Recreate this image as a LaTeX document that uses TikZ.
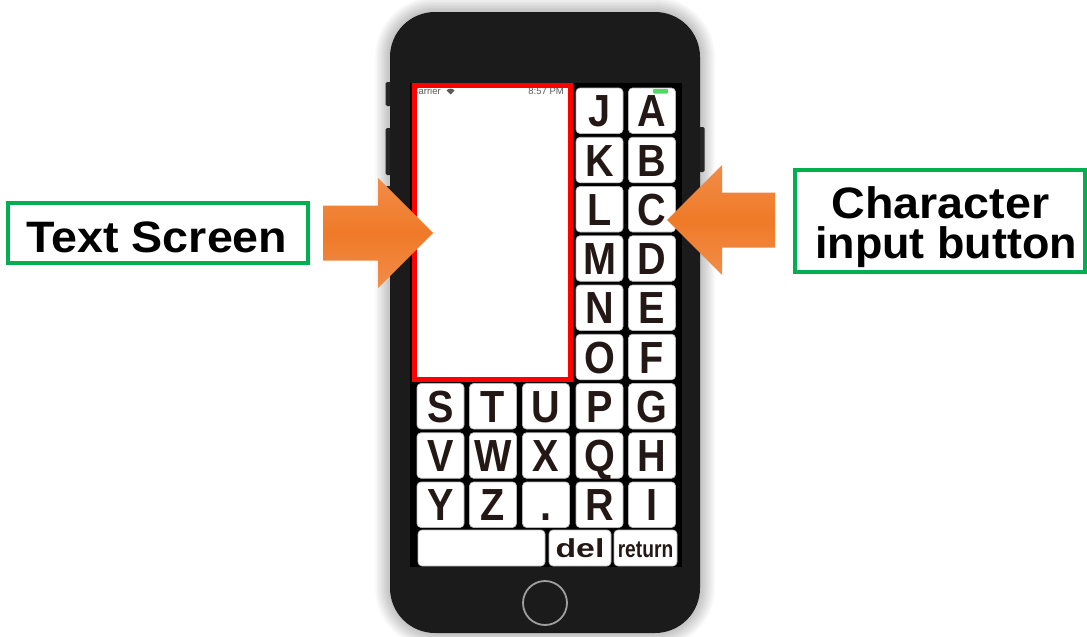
\documentclass[tikz,border=0pt]{standalone}
\usepackage{fontspec}
\setmainfont{Liberation Sans}
\usepackage{graphicx}
\definecolor{phonebody}{HTML}{1B1B1B}
\definecolor{sidebtn}{HTML}{262626}
\definecolor{lblgreen}{HTML}{00B050}
\definecolor{keyink}{HTML}{231815}
\definecolor{orgA}{HTML}{F28C48}
\definecolor{orgB}{HTML}{EF7A28}
\definecolor{batt}{HTML}{4CD964}
\definecolor{statgray}{HTML}{5A5A5A}
\newcommand\keyletter[1]{\scalebox{0.88}[1]{#1}}
\newcommand\lbltext[1]{\scalebox{1.06}[1]{#1}}
\begin{document}
\begin{tikzpicture}[x=1pt,y=-1pt,
  key/.style={draw=gray!55, line width=0.7pt, fill=white, rounded corners=4pt,
    minimum width=47pt, minimum height=45.5pt, inner sep=0pt,
    text height=32pt, text depth=0pt, text=keyink,
    font=\fontsize{45}{45}\selectfont\bfseries},
  lblbox/.style={draw=lblgreen, line width=3.5pt, inner sep=0pt},
  lbltxt/.style={inner sep=0pt, font=\fontsize{44}{44}\selectfont\bfseries, text=black},
  orangearrow/.style={top color=orgA, bottom color=orgA, middle color=orgB},
  stat/.style={inner sep=0pt, text=statgray, font=\fontsize{9.5}{9.5}\selectfont}]
\useasboundingbox (0,0) rectangle (1087,637);
\fill[white] (0,0) rectangle (1087,637);
% glow around the phone
\foreach \i in {1,...,10}{
  \pgfmathsetmacro\rr{45+1.5*\i}
  \fill[black, opacity=0.022, rounded corners=\rr pt]
    ({390-1.5*\i},{12-1.5*\i}) rectangle ({700+1.5*\i},{633+1.5*\i});
}
% side buttons
\fill[sidebtn, rounded corners=1.5pt] (385.5,82) rectangle (391,106);
\fill[sidebtn, rounded corners=1.5pt] (385.5,128) rectangle (391,175);
\fill[sidebtn, rounded corners=1.5pt] (385.5,186) rectangle (391,232);
\fill[sidebtn, rounded corners=1.5pt] (699,127) rectangle (704.5,172);
% phone body
\node[fill=phonebody, rounded corners=45pt, minimum width=310pt, minimum height=621pt, inner sep=0pt] (phone) at (545,322.5) {};
% screen
\node[fill=black, minimum width=272pt, minimum height=484pt, inner sep=0pt] (display) at (546,325) {};
\node[fill=white, minimum width=156pt, minimum height=294pt, inner sep=0pt] (textscreen) at (492.5,232.5) {};
% status bar
\begin{scope}
\clip (textscreen.north west) rectangle (textscreen.south east);
\node[stat, anchor=base west] (carrier) at (411.5,94.5) {Carrier};
\end{scope}
\fill[statgray] (450.5,94.5) -- (446.5,90.5) .. controls (448.5,88) and (452.5,88) .. (454.5,90.5) -- cycle;
\node[stat, anchor=base east] (clock) at (564,94.5) {8:57 PM};
\draw[red, line width=4.5pt] (textscreen.north west) rectangle (textscreen.south east);
% keys
\foreach \l [count=\i from 0] in {A,B,C,D,E,F,G,H,I}
  \node[key] (k\l) at (652,{110.75+49.25*\i}) {\keyletter{\l}};
\foreach \l [count=\i from 0] in {J,K,L,M,N,O,P,Q,R}
  \node[key] (k\l) at (599.5,{110.75+49.25*\i}) {\keyletter{\l}};
\node[key] (kS) at (440.5,406.25) {\keyletter{S}};
\node[key] (kT) at (493,406.25) {\keyletter{T}};
\node[key] (kU) at (546,406.25) {\keyletter{U}};
\node[key] (kV) at (440.5,455.5) {\keyletter{V}};
\node[key] (kW) at (493,455.5) {\keyletter{W}};
\node[key] (kX) at (546,455.5) {\keyletter{X}};
\node[key] (kY) at (440.5,504.75) {\keyletter{Y}};
\node[key] (kZ) at (493,504.75) {\keyletter{Z}};
\node[key] (kdot) at (546,504.75) {\keyletter{.}};
\node[key, minimum width=127pt, minimum height=36pt] (kspace) at (481.5,548) {};
\node[key, minimum width=62pt, minimum height=36pt, text height=18pt,
  font=\fontsize{26}{26}\selectfont\bfseries] (kdel) at (580,548) {\scalebox{1.3}[1]{del}};
\node[key, minimum width=63pt, minimum height=36pt, text height=18pt,
  font=\fontsize{24}{24}\selectfont\bfseries] (kreturn) at (645.5,548) {\scalebox{0.8}[1]{return}};
% battery
\fill[batt, rounded corners=1pt] (653,89) rectangle (668,93.5);
% home button
\node[circle, draw=gray!75, line width=1.8pt, minimum size=44pt, inner sep=0pt] (home) at (545,603) {};
% labels
\node[lblbox, minimum width=300pt, minimum height=60pt] (tsbox) at (158,233) {};
\node[lbltxt, anchor=base] (tstext) at (157,252) {\lbltext{Text Screen}};
\node[lblbox, minimum width=290pt, minimum height=102pt] (cibox) at (940,221) {};
\node[lbltxt, anchor=base] (citext1) at (940.5,218) {\lbltext{Character}};
\node[lbltxt, anchor=base] (citext2) at (946,258) {\scalebox{1.02}[1]{input button}};
% arrows
\path[orangearrow] (323,205.5) -- (378,205.5) -- (378,178) -- (433,233) -- (378,288) -- (378,260.5) -- (323,260.5) -- cycle;
\path[orangearrow] (775,192.5) -- (722,192.5) -- (722,165) -- (667,220) -- (722,275) -- (722,247.5) -- (775,247.5) -- cycle;
\end{tikzpicture}
\end{document}
